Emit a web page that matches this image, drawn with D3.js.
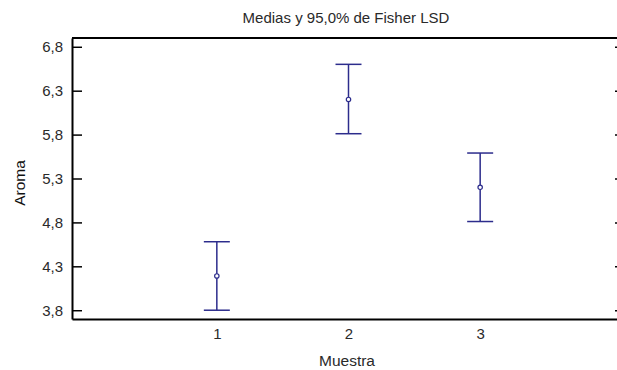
<!DOCTYPE html>
<html>
<head>
<meta charset="utf-8">
<script src="https://cdn.jsdelivr.net/npm/d3@7"></script>
<style>
  body { margin: 0; background: #fff; }
  svg { display: block; font-family: "Liberation Sans", Arial, sans-serif; }
</style>
</head>
<body>
<svg id="chart"></svg>
<script>
// Medias y 95,0% de Fisher LSD – Aroma por Muestra

const width = 617, height = 370;
const margin = { top: 38, right: -8, bottom: 51, left: 72 };

const muestras = [1, 2, 3];
const medias   = [4.19, 6.2, 5.2];
const inferior = [3.8, 5.81, 4.81];
const superior = [4.58, 6.6, 5.59];
const yTicks   = [3.8, 4.3, 4.8, 5.3, 5.8, 6.3, 6.8];

const data = muestras.map((m, i) => ({
  m, media: medias[i], lo: inferior[i], hi: superior[i]
}));

const svg = d3.select("#chart")
  .attr("width", width)
  .attr("height", height);

const x = d3.scaleLinear()
  .domain([-0.1, 4.1])
  .range([margin.left, width - margin.right]);

const y = d3.scaleLinear()
  .domain([3.7, 6.9])
  .range([height - margin.bottom, margin.top]);

const fmt = d => d3.format(".1f")(d).replace(".", ",");
const textCol = "#2a2a2a";
const barCol = "#2c2c8c";

// Ejes
svg.append("g")
  .attr("transform", `translate(${margin.left},0)`)
  .call(d3.axisLeft(y).tickValues(yTicks).tickFormat(fmt).tickSizeInner(-10).tickSizeOuter(0).tickPadding(9));

svg.append("g")
  .attr("transform", `translate(${width - margin.right},0)`)
  .call(d3.axisRight(y).tickValues(yTicks).tickFormat("").tickSizeInner(-10).tickSizeOuter(0));

svg.append("g")
  .attr("transform", `translate(0,${height - margin.bottom})`)
  .call(d3.axisBottom(x).tickValues(muestras).tickFormat(d3.format("d")).tickSize(0).tickPadding(9));

svg.selectAll(".domain").attr("stroke", "#000").attr("stroke-width", 2);
svg.selectAll(".tick line").attr("stroke", "#000").attr("stroke-width", 1.5);
svg.selectAll(".tick text").attr("fill", textCol).style("font-size", "15px");

// línea superior
svg.append("line")
  .attr("x1", x(-0.1)).attr("x2", x(4.1))
  .attr("y1", y(6.9)).attr("y2", y(6.9))
  .attr("stroke", "#000").attr("stroke-width", 2);

// Intervalos
const g = svg.append("g").attr("stroke", barCol).attr("fill", "none").attr("stroke-width", 1.5);
const cap = 13;

g.selectAll(".v").data(data).join("line")
  .attr("x1", d => x(d.m)).attr("x2", d => x(d.m))
  .attr("y1", d => y(d.lo)).attr("y2", d => y(d.hi));

g.selectAll(".cap-hi").data(data).join("line")
  .attr("x1", d => x(d.m) - cap).attr("x2", d => x(d.m) + cap)
  .attr("y1", d => y(d.hi)).attr("y2", d => y(d.hi));

g.selectAll(".cap-lo").data(data).join("line")
  .attr("x1", d => x(d.m) - cap).attr("x2", d => x(d.m) + cap)
  .attr("y1", d => y(d.lo)).attr("y2", d => y(d.lo));

g.selectAll("circle").data(data).join("circle")
  .attr("cx", d => x(d.m)).attr("cy", d => y(d.media))
  .attr("r", 2.2).attr("fill", "#fff").attr("stroke-width", 1.2);

// Títulos
svg.append("text")
  .attr("x", 346).attr("y", 23)
  .attr("text-anchor", "middle")
  .attr("fill", textCol)
  .style("font-size", "15px")
  .text("Medias y 95,0% de Fisher LSD");

svg.append("text")
  .attr("x", 347).attr("y", 366)
  .attr("text-anchor", "middle")
  .attr("fill", textCol)
  .style("font-size", "15.5px")
  .text("Muestra");

svg.append("text")
  .attr("transform", "translate(25,183) rotate(-90)")
  .attr("text-anchor", "middle")
  .attr("fill", "#111")
  .style("font-size", "15.5px")
  .text("Aroma");
</script>
</body>
</html>
